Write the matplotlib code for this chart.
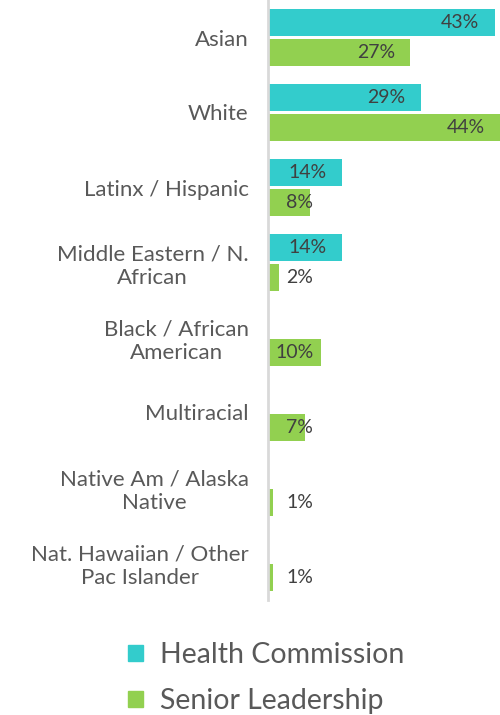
import numpy as np
import matplotlib.pyplot as plt
from matplotlib.patches import Patch

categories = ['Asian', 'White', 'Latinx / Hispanic', 'Middle Eastern / N.\nAfrican',
              'Black / African\nAmerican', 'Multiracial', 'Native Am / Alaska\nNative',
              'Nat. Hawaiian / Other\nPac Islander']
health_commission = [43, 29, 14, 14, 0, 0, 0, 0]
senior_leadership = [27, 44, 8, 2, 10, 7, 1, 1]

c_hc = '#33CCCC'
c_sl = '#92D050'
txt = '#595959'

plt.rcParams['font.family'] = ['Lato', 'DejaVu Sans']

fig = plt.figure(figsize=(5, 7.15), dpi=100)
ax = fig.add_axes([268/500, 1 - 600/715, 232/500, 600/715])

y = np.arange(len(categories))
h = 0.37
ax.barh(y - 0.2, health_commission, height=h, color=c_hc)
ax.barh(y + 0.2, senior_leadership, height=h, color=c_sl)

# value labels: near the bar end, pushed out for short bars
for vals, off in [(health_commission, -0.2), (senior_leadership, 0.2)]:
    for i, v in enumerate(vals):
        if v == 0:
            continue
        xr = max(v - 2.9, 8.6)
        ax.text(xr, i + off, f'{v}%', ha='right', va='center',
                fontsize=14, color='#404040')

ax.set_xlim(0, 44)
ax.set_ylim(len(categories) - 0.5, -0.5)
ax.set_xticks([])
ax.set_yticks(y)
ax.set_yticklabels(categories, fontsize=16, color=txt, linespacing=1.2,
                   multialignment='center')
ax.tick_params(axis='y', length=0, pad=14)
for s in ['top', 'right', 'bottom']:
    ax.spines[s].set_visible(False)
ax.spines['left'].set_color('#d9d9d9')
ax.spines['left'].set_linewidth(2)

handles = [Patch(color=c_hc), Patch(color=c_sl)]
fig.legend(handles, ['Health Commission', 'Senior Leadership'],
           loc='upper left', bbox_to_anchor=(128/500, 1 - 642/715),
           frameon=False, fontsize=20.5, labelcolor=txt,
           borderpad=0, borderaxespad=0,
           handlelength=0.52, handleheight=0.52, handletextpad=0.6,
           labelspacing=0.7)

fig.savefig('out.png', dpi=100)
